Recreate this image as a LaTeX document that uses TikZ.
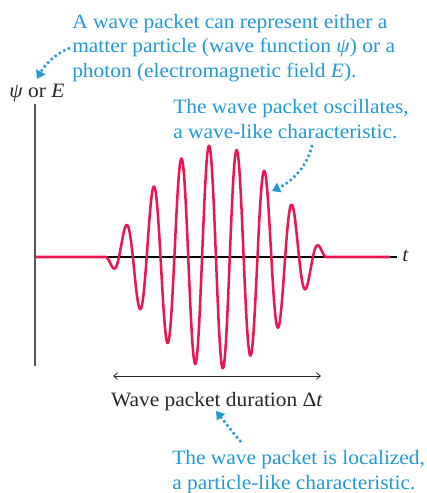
\documentclass[tikz,border=0pt]{standalone}
\usepackage{fontspec}
\setmainfont[FakeStretch=1.05]{Liberation Serif}
\usetikzlibrary{arrows.meta}
\definecolor{noteblue}{RGB}{32,154,210}
\definecolor{wavered}{RGB}{234,22,82}
\definecolor{axisgray}{RGB}{85,85,85}
\begin{document}
\begin{tikzpicture}[x=0.75pt,y=-0.75pt,
  note/.style={text=noteblue, font=\fontsize{15.3}{18.2}\selectfont, align=left, inner sep=0pt, anchor=base west},
  axislabel/.style={text=black!85, font=\fontsize{15.3}{18.2}\selectfont, inner sep=0pt},
  pointer/.style={draw=noteblue, line width=1.9pt, dash pattern=on 1.8pt off 2pt, -{Triangle[length=6pt,width=7.5pt]}},
  wave/.style={draw=wavered, line width=1.9pt, line join=round},
  span/.style={draw=black!85, line width=0.6pt, {Straight Barb[length=3pt,width=5pt]}-{Straight Barb[length=3pt,width=5pt]}}]
\useasboundingbox (0,0) rectangle (426,493);
% axes
\coordinate (vtop) at (35,104);
\coordinate (vbot) at (35,366);
\coordinate (hleft) at (35,257);
\coordinate (hright) at (397,257);
\draw[axisgray, line width=1.1pt] (vtop) -- (vbot);
\draw[black, line width=0.8pt] (hleft) -- (hright);
\node[axislabel, anchor=west] (tlab) at (402,256) {\textit{t}};
\node[axislabel, anchor=base west] (ylab) at (9,97) {\textit{ψ} or \textit{E}};
% wave packet
\draw[wave] (35,257) -- (106,257)
  -- plot[domain=106:326, samples=320] (\x, {257-112*cos((\x-216)/110*90)*cos((\x-209)/27.7*360)})
  -- (390,257);
% duration
\coordinate (dl) at (113,376);
\coordinate (dr) at (321,376);
\draw[span] (dl) -- (dr);
\node[axislabel, anchor=base] (dur) at (217,406) {Wave packet duration Δ\textit{t}};
% notes
\node[note] (n1) at (72,77) {A wave packet can represent either a\\matter particle (wave function \textit{ψ}) or a\\photon (electromagnetic field \textit{E}).};
\node[note] (n2) at (173,138) {The wave packet oscillates,\\a wave-like characteristic.};
\node[note] (n3) at (172,489) {The wave packet is localized,\\a particle-like characteristic.};
% pointers
\coordinate (p1s) at (70,48);
\coordinate (p1e) at (37,79);
\coordinate (p2s) at (312,145);
\coordinate (p2e) at (272,191);
\coordinate (p3s) at (241,442);
\coordinate (p3e) at (216,411);
\draw[pointer] (p1s) .. controls (58,52) and (45,64) .. (p1e);
\draw[pointer] (p2s) .. controls (308,165) and (293,181) .. (p2e);
\draw[pointer] (p3s) .. controls (234,434) and (224,421) .. (p3e);
\end{tikzpicture}
\end{document}
